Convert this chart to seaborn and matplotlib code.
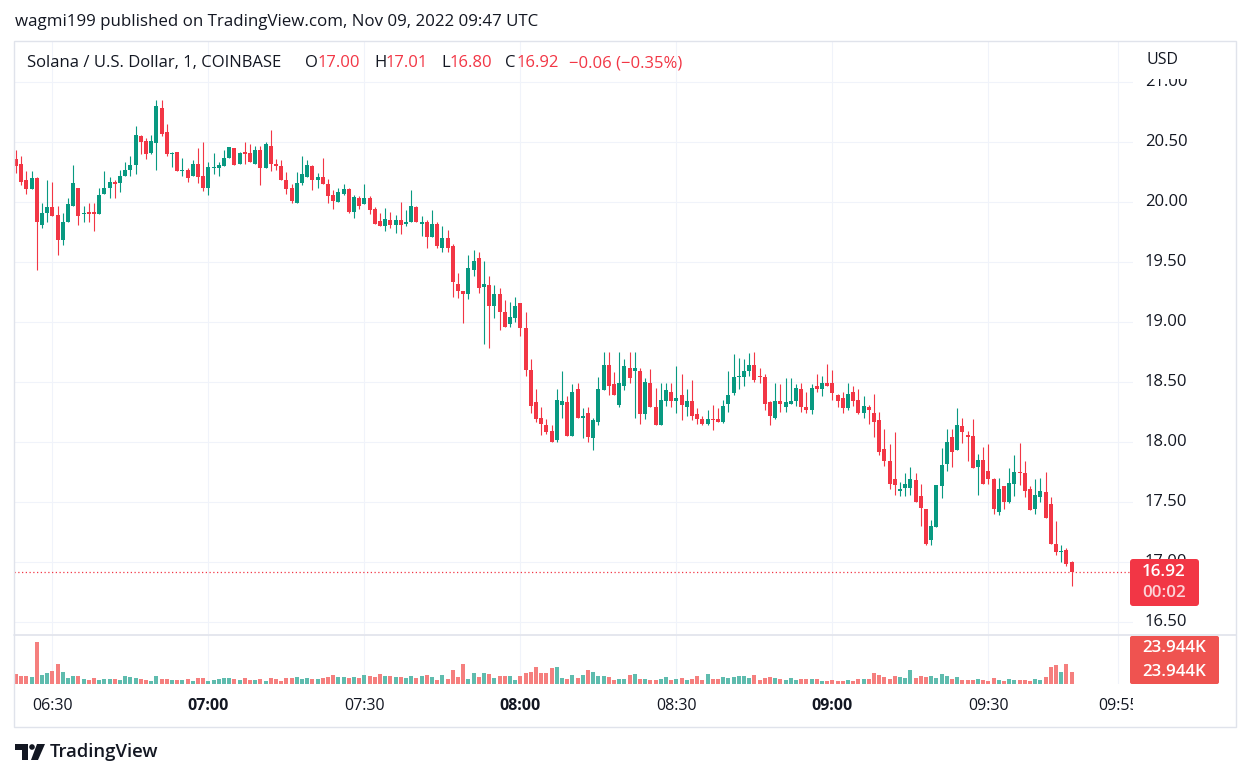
import numpy as np
import pandas as pd
import seaborn as sns
import matplotlib.pyplot as plt
from matplotlib.patches import FancyBboxPatch, Rectangle, Polygon, Circle

sns.set_theme(style="white")
plt.rcParams['font.family'] = ['Open Sans', 'DejaVu Sans']

W, H = 1250, 779

# SOL/USD 1-minute candles, Coinbase, 06:23 -> 09:46 UTC
opens = [20.36, 20.32, 20.18, 20.11, 20.20, 19.81, 19.91, 19.96, 19.89, 19.68,
         19.83, 19.97, 20.12, 19.90, 19.92, 19.92, 19.90, 20.07, 20.12, 20.17,
         20.16, 20.22, 20.27, 20.31, 20.55, 20.51, 20.41, 20.49, 20.78, 20.58,
         20.40, 20.42, 20.26, 20.27, 20.22, 20.32, 20.22, 20.12, 20.28, 20.28,
         20.30, 20.37, 20.45, 20.32, 20.42, 20.41, 20.32, 20.43, 20.28, 20.47,
         20.32, 20.30, 20.18, 20.12, 19.99, 20.16, 20.21, 20.30, 20.18, 20.21,
         20.15, 20.06, 20.00, 20.07, 20.11, 19.92, 20.03, 19.98, 20.03, 19.94,
         19.84, 19.80, 19.85, 19.81, 19.85, 19.82, 19.83, 19.96, 19.82, 19.83,
         19.71, 19.82, 19.62, 19.70, 19.63, 19.32, 19.26, 19.23, 19.43, 19.53,
         19.29, 19.31, 19.13, 19.23, 19.08, 18.98, 19.03, 19.16, 18.95, 18.60,
         18.33, 18.20, 18.14, 18.09, 18.02, 18.31, 18.33, 18.05, 18.44, 18.20,
         18.24, 18.03, 18.17, 18.43, 18.64, 18.48, 18.31, 18.47, 18.62, 18.59,
         18.59, 18.23, 18.49, 18.29, 18.14, 18.34, 18.42, 18.34, 18.39, 18.29,
         18.34, 18.23, 18.19, 18.15, 18.19, 18.19, 18.17, 18.32, 18.41, 18.54,
         18.54, 18.59, 18.64, 18.55, 18.54, 18.33, 18.20, 18.34, 18.29, 18.32,
         18.34, 18.44, 18.29, 18.27, 18.47, 18.44, 18.49, 18.49, 18.39, 18.37,
         18.28, 18.42, 18.35, 18.24, 18.29, 18.24, 18.18, 17.94, 17.84, 17.69,
         17.59, 17.62, 17.62, 17.68, 17.55, 17.44, 17.18, 17.29, 17.63, 17.82,
         18.04, 17.93, 18.13, 18.06, 18.05, 17.79, 17.85, 17.76, 17.69, 17.42,
         17.63, 17.50, 17.65, 17.75, 17.74, 17.61, 17.44, 17.54, 17.58, 17.48,
         17.15, 17.08, 17.10, 17.00]
highs = [20.43, 20.38, 20.26, 20.26, 20.21, 19.99, 20.18, 20.17, 19.97, 19.91,
         20.03, 20.31, 20.12, 19.97, 19.99, 19.99, 20.12, 20.26, 20.21, 20.18,
         20.27, 20.33, 20.38, 20.63, 20.56, 20.53, 20.56, 20.85, 20.85, 20.65,
         20.42, 20.42, 20.37, 20.28, 20.35, 20.45, 20.50, 20.33, 20.41, 20.33,
         20.43, 20.46, 20.45, 20.42, 20.50, 20.48, 20.47, 20.47, 20.50, 20.60,
         20.36, 20.35, 20.25, 20.15, 20.25, 20.38, 20.35, 20.31, 20.24, 20.37,
         20.19, 20.10, 20.12, 20.15, 20.12, 20.06, 20.05, 20.15, 20.05, 19.96,
         19.91, 19.95, 19.92, 19.89, 20.00, 19.93, 20.10, 19.97, 19.88, 19.85,
         19.93, 19.83, 19.80, 19.77, 19.65, 19.41, 19.26, 19.56, 19.60, 19.58,
         19.51, 19.38, 19.31, 19.28, 19.18, 19.17, 19.21, 19.16, 19.08, 18.69,
         18.44, 18.29, 18.19, 18.14, 18.44, 18.59, 18.38, 18.48, 18.49, 18.28,
         18.29, 18.20, 18.54, 18.75, 18.75, 18.58, 18.75, 18.69, 18.75, 18.75,
         18.62, 18.53, 18.61, 18.45, 18.49, 18.49, 18.49, 18.63, 18.57, 18.44,
         18.52, 18.28, 18.22, 18.27, 18.31, 18.28, 18.35, 18.59, 18.73, 18.70,
         18.69, 18.74, 18.75, 18.62, 18.57, 18.34, 18.49, 18.48, 18.53, 18.53,
         18.48, 18.49, 18.42, 18.48, 18.57, 18.55, 18.65, 18.60, 18.40, 18.42,
         18.49, 18.47, 18.44, 18.38, 18.31, 18.40, 18.25, 18.11, 17.98, 18.08,
         17.67, 17.74, 17.79, 17.74, 17.65, 17.44, 17.35, 17.64, 17.95, 18.11,
         18.11, 18.28, 18.20, 18.09, 18.19, 17.90, 17.96, 17.98, 17.70, 17.70,
         17.63, 17.78, 17.89, 17.99, 17.84, 17.63, 17.69, 17.70, 17.75, 17.54,
         17.34, 17.14, 17.12, 17.01]
lows = [20.24, 20.14, 20.07, 20.11, 19.43, 19.78, 19.83, 19.88, 19.56, 19.64,
        19.83, 19.97, 19.81, 19.83, 19.83, 19.76, 19.90, 20.07, 20.03, 20.03,
        20.08, 20.22, 20.22, 20.23, 20.40, 20.36, 20.40, 20.27, 20.55, 20.38,
        20.29, 20.26, 20.22, 20.17, 20.22, 20.16, 20.09, 20.06, 20.23, 20.22,
        20.30, 20.37, 20.31, 20.32, 20.32, 20.33, 20.32, 20.14, 20.28, 20.26,
        20.27, 20.18, 20.07, 19.99, 19.99, 20.14, 20.21, 20.10, 20.12, 20.15,
        19.99, 19.94, 20.00, 20.06, 19.91, 19.87, 19.94, 19.98, 19.90, 19.82,
        19.80, 19.76, 19.78, 19.74, 19.73, 19.80, 19.83, 19.83, 19.72, 19.62,
        19.71, 19.62, 19.58, 19.58, 19.21, 19.20, 18.99, 19.19, 19.38, 19.24,
        18.82, 18.78, 19.03, 18.93, 18.96, 18.96, 19.00, 18.88, 18.55, 18.24,
        18.17, 18.06, 18.07, 18.00, 18.00, 18.20, 18.05, 18.05, 18.20, 18.03,
        18.00, 17.93, 18.14, 18.43, 18.39, 18.39, 18.29, 18.43, 18.49, 18.20,
        18.15, 18.19, 18.29, 18.14, 18.14, 18.30, 18.29, 18.24, 18.18, 18.22,
        18.18, 18.15, 18.14, 18.14, 18.10, 18.17, 18.16, 18.25, 18.39, 18.44,
        18.47, 18.55, 18.50, 18.49, 18.27, 18.14, 18.19, 18.25, 18.25, 18.32,
        18.30, 18.25, 18.24, 18.23, 18.42, 18.38, 18.47, 18.35, 18.29, 18.24,
        18.27, 18.30, 18.23, 18.20, 18.15, 18.04, 17.89, 17.80, 17.61, 17.56,
        17.55, 17.55, 17.56, 17.50, 17.30, 17.14, 17.14, 17.29, 17.53, 17.76,
        17.79, 17.93, 17.99, 17.84, 17.78, 17.56, 17.65, 17.65, 17.40, 17.39,
        17.44, 17.49, 17.55, 17.64, 17.54, 17.43, 17.40, 17.50, 17.37, 17.15,
        17.06, 17.00, 16.97, 16.80]
closes = [20.30, 20.17, 20.11, 20.20, 19.83, 19.91, 19.96, 19.88, 19.68, 19.83,
          19.98, 20.16, 19.88, 19.91, 19.90, 19.90, 20.06, 20.12, 20.17, 20.15,
          20.22, 20.27, 20.31, 20.56, 20.50, 20.40, 20.51, 20.80, 20.57, 20.40,
          20.41, 20.26, 20.27, 20.20, 20.32, 20.21, 20.12, 20.29, 20.29, 20.31,
          20.37, 20.46, 20.31, 20.41, 20.40, 20.33, 20.43, 20.28, 20.48, 20.32,
          20.30, 20.18, 20.11, 20.01, 20.16, 20.23, 20.31, 20.18, 20.21, 20.15,
          20.05, 20.01, 20.08, 20.11, 19.92, 20.04, 19.97, 20.03, 19.93, 19.82,
          19.80, 19.86, 19.81, 19.85, 19.81, 19.83, 19.97, 19.83, 19.83, 19.71,
          19.82, 19.63, 19.70, 19.62, 19.33, 19.26, 19.23, 19.45, 19.51, 19.28,
          19.32, 19.13, 19.23, 19.08, 18.96, 19.04, 19.13, 18.95, 18.60, 18.30,
          18.19, 18.15, 18.08, 18.00, 18.35, 18.34, 18.05, 18.42, 18.20, 18.22,
          18.04, 18.18, 18.44, 18.64, 18.47, 18.39, 18.49, 18.63, 18.53, 18.62,
          18.23, 18.50, 18.29, 18.14, 18.35, 18.43, 18.34, 18.37, 18.31, 18.34,
          18.22, 18.19, 18.15, 18.19, 18.18, 18.17, 18.30, 18.39, 18.54, 18.55,
          18.59, 18.64, 18.52, 18.54, 18.32, 18.22, 18.34, 18.32, 18.33, 18.34,
          18.45, 18.29, 18.27, 18.45, 18.44, 18.49, 18.47, 18.41, 18.34, 18.28,
          18.40, 18.34, 18.24, 18.30, 18.27, 18.17, 17.92, 17.84, 17.65, 17.64,
          17.61, 17.65, 17.69, 17.50, 17.45, 17.15, 17.30, 17.64, 17.81, 18.00,
          17.92, 18.14, 18.08, 18.04, 17.78, 17.85, 17.65, 17.69, 17.44, 17.61,
          17.50, 17.66, 17.75, 17.74, 17.59, 17.43, 17.56, 17.59, 17.37, 17.15,
          17.08, 17.09, 16.98, 16.92]
volume_k = [20.5, 16.4, 16.4, 13.7, 87.6, 18.5, 21.9, 26.0, 40.4, 23.9,
            11.6, 15.7, 15.7, 9.6, 7.5, 11.6, 7.5, 9.6, 9.6, 9.6,
            7.5, 15.7, 13.7, 11.6, 9.6, 7.5, 5.5, 15.7, 9.6, 9.6,
            7.5, 7.5, 7.5, 9.6, 5.5, 11.6, 11.6, 5.5, 7.5, 9.6,
            11.6, 11.6, 9.6, 7.5, 11.6, 7.5, 7.5, 9.6, 5.5, 11.6,
            9.6, 5.5, 11.6, 11.6, 13.7, 9.6, 11.6, 9.6, 9.6, 11.6,
            13.7, 17.8, 13.7, 13.7, 11.6, 13.7, 11.6, 17.8, 15.7, 13.7,
            19.8, 15.7, 15.7, 13.7, 13.7, 11.6, 15.7, 11.6, 15.7, 17.8,
            13.7, 7.5, 17.8, 9.6, 28.0, 13.7, 40.4, 9.6, 21.9, 13.7,
            21.9, 19.8, 11.6, 15.7, 15.7, 15.7, 7.5, 15.7, 21.9, 23.9,
            34.2, 21.9, 21.9, 32.1, 34.2, 11.6, 9.6, 17.8, 11.6, 17.8,
            28.0, 23.9, 15.7, 15.7, 13.7, 7.5, 9.6, 9.6, 17.8, 19.8,
            9.6, 9.6, 7.5, 7.5, 9.6, 13.7, 7.5, 9.6, 11.6, 7.5,
            9.6, 15.7, 7.5, 19.8, 9.6, 9.6, 13.7, 11.6, 13.7, 15.7,
            15.7, 11.6, 17.8, 7.5, 11.6, 13.7, 11.6, 9.6, 7.5, 11.6,
            7.5, 9.6, 9.6, 9.6, 9.6, 5.5, 5.5, 7.5, 5.5, 5.5,
            7.5, 5.5, 9.6, 9.6, 9.6, 21.9, 17.8, 13.7, 9.6, 15.7,
            13.7, 11.6, 28.0, 11.6, 15.7, 13.7, 15.7, 11.6, 19.8, 15.7,
            9.6, 13.7, 7.5, 7.5, 7.5, 9.6, 7.5, 5.5, 11.6, 7.5,
            5.5, 9.6, 7.5, 7.5, 7.5, 5.5, 9.6, 7.5, 13.7, 34.2,
            38.3, 23.9, 40.4, 23.944]

times = pd.date_range("2022-11-09 06:23", periods=len(opens), freq="min")
time_ticks = ["06:30", "07:00", "07:30", "08:00", "08:30", "09:00", "09:30", "09:55"]
price_ticks = [16.5, 17.0, 17.5, 18.0, 18.5, 19.0, 19.5, 20.0, 20.5, 21.0]

UP, DOWN = "#089981", "#f23645"
VUP, VDOWN = "#5fbcae", "#f57f7e"
GRID = "#f0f3fa"
BORDER = "#e0e3eb"
TXT = "#131722"

df = pd.DataFrame({"time": times, "open": opens, "high": highs,
                   "low": lows, "close": closes, "volume": volume_k})
df["t"] = (df["time"] - df["time"].iloc[0]) / pd.Timedelta("1min")
df["dir"] = np.where(df["close"] >= df["open"], "up", "down")
df["color"] = np.where(df["dir"] == "up", UP, DOWN)

day = "2022-11-09 "
tick_t = [(pd.Timestamp(day + s) - times[0]) / pd.Timedelta("1min") for s in time_ticks]


# layout helpers (pixel -> figure / data)
def rect(x0, y0, x1, y1):
    return [x0 / W, 1 - y1 / H, (x1 - x0) / W, (y1 - y0) / H]


def py(y):
    return 21 - (y - 82) / 120.0


def pt(x):
    return (x - 16) / 5.2


fig = plt.figure(figsize=(W / 100, H / 100), dpi=100)
fig.patch.set_facecolor("white")
xlim = (pt(14), pt(1133))

# price pane
ax = fig.add_axes(rect(14, 41, 1133, 634))
ax.set_xlim(*xlim)
ax.set_ylim(py(634), py(41))
ax.set_axis_off()
for p in price_ticks:
    ax.axhline(p, color=GRID, lw=0.8, zorder=0)
for t in tick_t:
    ax.axvline(t, color=GRID, lw=0.8, zorder=0)
ax.vlines(df["t"], df["low"], df["high"], colors=df["color"], lw=0.8, zorder=2)
body = np.maximum((df["close"] - df["open"]).abs(), 0.008)
ax.bar(df["t"], body, bottom=np.minimum(df["open"], df["close"]), width=0.74,
       color=df["color"], linewidth=0, zorder=3)
ax.axhline(closes[-1], color=DOWN, lw=0.9, ls=(0, (1, 2)), zorder=4)

# volume pane
vax = fig.add_axes(rect(14, 635, 1133, 684))
for t in tick_t:
    vax.axvline(t, color=GRID, lw=0.8, zorder=0)
sns.barplot(data=df, x="t", y="volume", hue="dir", palette={"up": VUP, "down": VDOWN},
            native_scale=True, dodge=False, width=0.76, saturation=1, legend=False,
            errorbar=None, linewidth=0, ax=vax)
vax.set_xlim(*xlim)
vax.set_ylim(0, 101)
vax.set_axis_off()

# time axis
tax = fig.add_axes(rect(14, 684, 1133, 727))
tax.set_xlim(*xlim)
tax.set_ylim(727, 684)
tax.set_axis_off()
for t, s in zip(tick_t, time_ticks):
    tax.text(t, 706, s, ha="center", va="center", fontsize=11.5, color=TXT,
             fontweight="bold" if s.endswith(":00") else "normal", clip_on=True)

# price axis (two clip regions so the last-price tag hides the 17.00 label)
for y0, y1 in ((79, 559), (606, 634)):
    rax = fig.add_axes(rect(1133, y0, 1236, y1))
    rax.set_xlim(1133, 1236)
    rax.set_ylim(py(y1), py(y0))
    rax.set_axis_off()
    for p in price_ticks:
        rax.text(1145, p, f"{p:.2f}", ha="left", va="center", fontsize=12,
                 color=TXT, clip_on=True)

# overlay in pixel coordinates
ov = fig.add_axes([0, 0, 1, 1])
ov.set_zorder(10)
ov.set_xlim(0, W)
ov.set_ylim(H, 0)
ov.set_axis_off()
ov.patch.set_visible(False)

ov.add_patch(Rectangle((14, 41), 1222, 686, fill=False, ec=BORDER, lw=1))
ov.plot([14, 1236], [635, 635], color=BORDER, lw=1.2)

ov.text(15, 22, "wagmi199 published on TradingView.com, Nov 09, 2022 09:47 UTC",
        fontsize=12.2, color=TXT, va="center")
ov.text(1146, 60, "USD", fontsize=11.5, color=TXT, va="center")

chg = closes[-1] - closes[-2]
pct = chg / closes[-2] * 100
legend = [(27, "Solana / U.S. Dollar, 1, COINBASE", TXT),
          (305, "O", TXT), (318, f"{opens[-1]:.2f}", DOWN),
          (374, "H", TXT), (386, f"{highs[-1]:.2f}", DOWN),
          (441, "L", TXT), (450, f"{lows[-1]:.2f}", DOWN),
          (505, "C", TXT), (517, f"{closes[-1]:.2f}", DOWN),
          (569, f"{chg:+.2f} ({pct:+.2f}%)".replace("-", "\u2212"), DOWN)]
for x, s, c in legend:
    ov.text(x, 63, s, fontsize=12, color=c, va="center")

# last price / volume tags
ov.add_patch(FancyBboxPatch((1130, 559), 69, 47, boxstyle="round,pad=0,rounding_size=3",
                            fc=DOWN, ec="none"))
ov.text(1164, 572, f"{closes[-1]:.2f}", color="white", fontsize=12.3, ha="center",
        va="center", fontweight="semibold")
ov.text(1164, 593, "00:02", color="#fcd3d7", fontsize=12.3, ha="center", va="center",
        fontweight="semibold")
ov.add_patch(FancyBboxPatch((1130, 636), 89, 48, boxstyle="round,pad=0,rounding_size=2",
                            fc="#ef5350", ec="none"))
for y in (648, 672):
    ov.text(1174, y, f"{volume_k[-1]:.3f}K", color="white", fontsize=12.2, ha="center",
            va="center", fontweight="semibold")

# TradingView logo
ov.add_patch(Polygon([(15, 744), (28, 744), (28, 760), (22, 760), (22, 750), (15, 750)],
                     closed=True, fc=TXT, ec="none"))
ov.add_patch(Circle((32, 747), 2.8, fc=TXT, ec="none"))
ov.add_patch(Polygon([(37, 744), (45, 744), (38, 760), (31, 760)],
                     closed=True, fc=TXT, ec="none"))
ov.text(50, 752, "TradingView", fontsize=13.3, color=TXT, va="center",
        fontweight="semibold")

fig.savefig("out.png", dpi=100, facecolor="white")
